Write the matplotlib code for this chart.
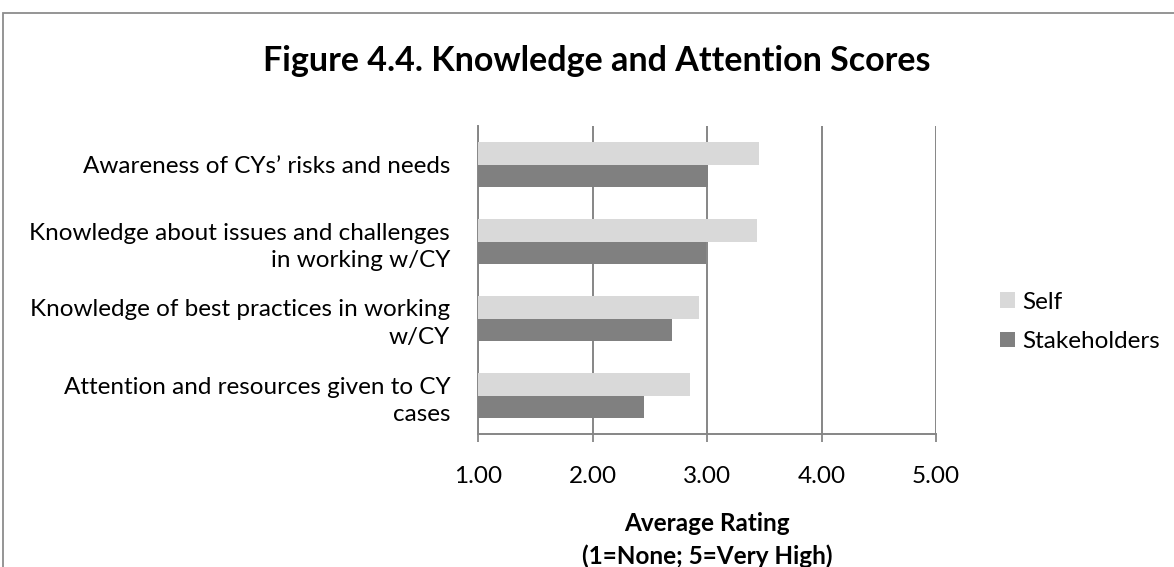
import matplotlib.pyplot as plt
import numpy as np
from matplotlib.patches import Rectangle

# data
categories = [
    "Awareness of CYs\u2019 risks and needs",
    "Knowledge about issues and challenges\nin working w/CY",
    "Knowledge of best practices in working\nw/CY",
    "Attention and resources given to CY\ncases",
]
self_scores = [3.45, 3.44, 2.93, 2.85]
stakeholder_scores = [3.01, 2.99, 2.69, 2.45]
x_ticks = [1.0, 2.0, 3.0, 4.0, 5.0]

plt.rcParams['font.family'] = ['Lato', 'DejaVu Sans']
fs = 17.5

fig = plt.figure(figsize=(11.74, 5.67), dpi=100)
# outer chart frame like the spreadsheet export
fig.patches.append(Rectangle((3 / 1174, -0.1), 1.2, 1.1 - 13 / 567,
                             transform=fig.transFigure, fill=False,
                             edgecolor='#8c8c8c', linewidth=1.3))

ax = fig.add_axes([478 / 1174, 1 - 434 / 567, 458 / 1174, 308 / 567])

y = np.arange(len(categories))
h = 0.286
ax.barh(y - h / 2, np.array(self_scores) - 1, left=1, height=h,
        color='#d9d9d9', label='Self', zorder=3)
ax.barh(y + h / 2, np.array(stakeholder_scores) - 1, left=1, height=h,
        color='#808080', label='Stakeholders', zorder=3)

ax.set_xlim(1, 5)
ax.set_ylim(len(categories) - 0.5, -0.5)
ax.set_xticks(x_ticks)
ax.set_xticklabels([f"{t:.2f}" for t in x_ticks], fontsize=fs)
ax.set_yticks(y)
ax.set_yticklabels(categories, fontsize=fs, linespacing=1.37)
ax.tick_params(axis='y', length=0, pad=20)
ax.tick_params(axis='x', length=6, width=1.3, color='#868686', pad=17)
ax.grid(axis='x', color='#868686', linewidth=1.4, zorder=0)
for s in ['top', 'right']:
    ax.spines[s].set_visible(False)
for s in ['left', 'bottom']:
    ax.spines[s].set_color('#868686')
    ax.spines[s].set_linewidth(1.4)

ax.set_xlabel("Average Rating\n(1=None; 5=Very High)", fontsize=fs,
              fontweight='bold', labelpad=18, linespacing=1.5)

fig.suptitle("Figure 4.4. Knowledge and Attention Scores", fontsize=24.5,
             fontweight='bold', x=597 / 1174, y=1 - 61 / 567, va='center')

fig.legend(loc='center left', bbox_to_anchor=(978 / 1174, 1 - 322 / 567),
           frameon=False, fontsize=fs, handlelength=0.62, handleheight=0.62,
           handletextpad=0.3, labelspacing=0.75)

fig.savefig('out.png', dpi=100)
